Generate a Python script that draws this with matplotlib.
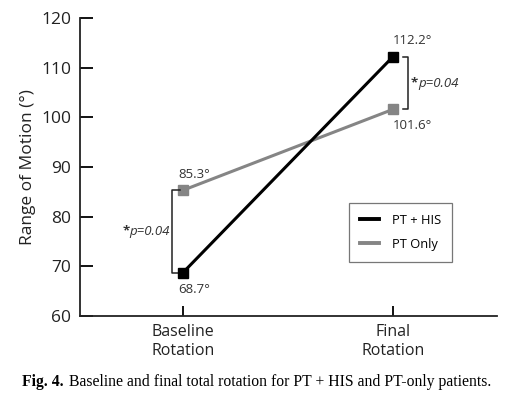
import matplotlib.pyplot as plt

plt.rcParams['font.family'] = ['Open Sans', 'DejaVu Sans']

categories = ["Baseline\nRotation", "Final\nRotation"]
pt_his = [68.7, 112.2]
pt_only = [85.3, 101.6]
series_names = ["PT + HIS", "PT Only"]
p_text = "p=0.04"
caption = "Baseline and final total rotation for PT + HIS and PT-only patients."

x = [0, 1]
grey = "#858585"
txt_col = "#333333"

fig = plt.figure(figsize=(5.15, 3.99), dpi=100)
ax = fig.add_axes([0.155, 0.208, 0.81, 0.747])

ax.plot(x, pt_his, color="black", lw=2.2, marker="s", ms=7, label=series_names[0], zorder=3)
ax.plot(x, pt_only, color=grey, lw=2.2, marker="s", ms=7, label=series_names[1], zorder=2)

# value labels
ax.annotate(f"{pt_only[0]}°", (x[0], pt_only[0]), xytext=(-3, 7), textcoords="offset points",
            ha="left", va="bottom", fontsize=9.5, color=txt_col)
ax.annotate(f"{pt_his[0]}°", (x[0], pt_his[0]), xytext=(-3, -7), textcoords="offset points",
            ha="left", va="top", fontsize=9.5, color=txt_col)
ax.annotate(f"{pt_his[1]}°", (x[1], pt_his[1]), xytext=(0, 7), textcoords="offset points",
            ha="left", va="bottom", fontsize=9.5, color=txt_col)
ax.annotate(f"{pt_only[1]}°", (x[1], pt_only[1]), xytext=(0, -7), textcoords="offset points",
            ha="left", va="top", fontsize=9.5, color=txt_col)

# significance brackets
bx, bt = -0.052, -0.014
ax.plot([bt, bx, bx, bt], [pt_only[0], pt_only[0], pt_his[0], pt_his[0]], color="#222222", lw=1.1)
t1 = ax.text(bx - 0.01, (pt_only[0] + pt_his[0]) / 2, p_text, ha="right", va="center",
             fontsize=9.5, style="italic", color=txt_col)
ax.annotate("*", xy=(0, 0.55), xycoords=t1, ha="right", va="center", fontsize=9.5,
            fontweight="bold", color=txt_col)

fx, ft = 1.071, 1.048
ax.plot([ft, fx, fx, ft], [pt_his[1], pt_his[1], pt_only[1], pt_only[1]], color="#222222", lw=1.1)
s2 = ax.text(fx + 0.015, (pt_his[1] + pt_only[1]) / 2, "*", ha="left", va="center",
             fontsize=9.5, fontweight="bold", color=txt_col)
ax.annotate(p_text, xy=(1, 0.45), xycoords=s2, ha="left", va="center", fontsize=9.5,
            style="italic", color=txt_col)

ax.set_xlim(-0.49, 1.495)
ax.set_ylim(60, 120)
ax.set_yticks(range(60, 121, 10))
ax.set_xticks(x)
ax.set_xticklabels(categories, fontsize=11.5, color="#222222", linespacing=1.25)
ax.tick_params(axis="y", direction="in", length=9, width=1.3, labelsize=12.5, labelcolor="#222222", pad=6)
ax.tick_params(axis="x", direction="in", length=7, width=1.3, pad=6)
for s in ["top", "right"]:
    ax.spines[s].set_visible(False)
for s in ["left", "bottom"]:
    ax.spines[s].set_linewidth(1.3)
    ax.spines[s].set_color("#222222")
ax.set_ylabel("Range of Motion (°)", fontsize=12.5, color="#222222", labelpad=4)

leg = ax.legend(loc="upper left", bbox_to_anchor=(0.645, 0.38), fontsize=9.3, frameon=True,
                fancybox=False, handlelength=1.5, borderpad=0.85, labelspacing=0.85,
                handletextpad=1.0, borderaxespad=0)
for h in leg.get_lines():
    h.set_marker("")
    h.set_linewidth(2.8)
leg.get_frame().set_edgecolor("#555555")
leg.get_frame().set_linewidth(0.9)

cap = fig.text(0.043, 0.043, "Fig. 4.", fontsize=11.3, fontweight="bold", family="Liberation Serif",
               ha="left", va="center")
ax.annotate(caption, xy=(1, 0.5), xycoords=cap, xytext=(3.5, 0), textcoords="offset points",
            fontsize=11.3, family="Liberation Serif", ha="left", va="center", annotation_clip=False)

fig.savefig("out.png", dpi=100)
